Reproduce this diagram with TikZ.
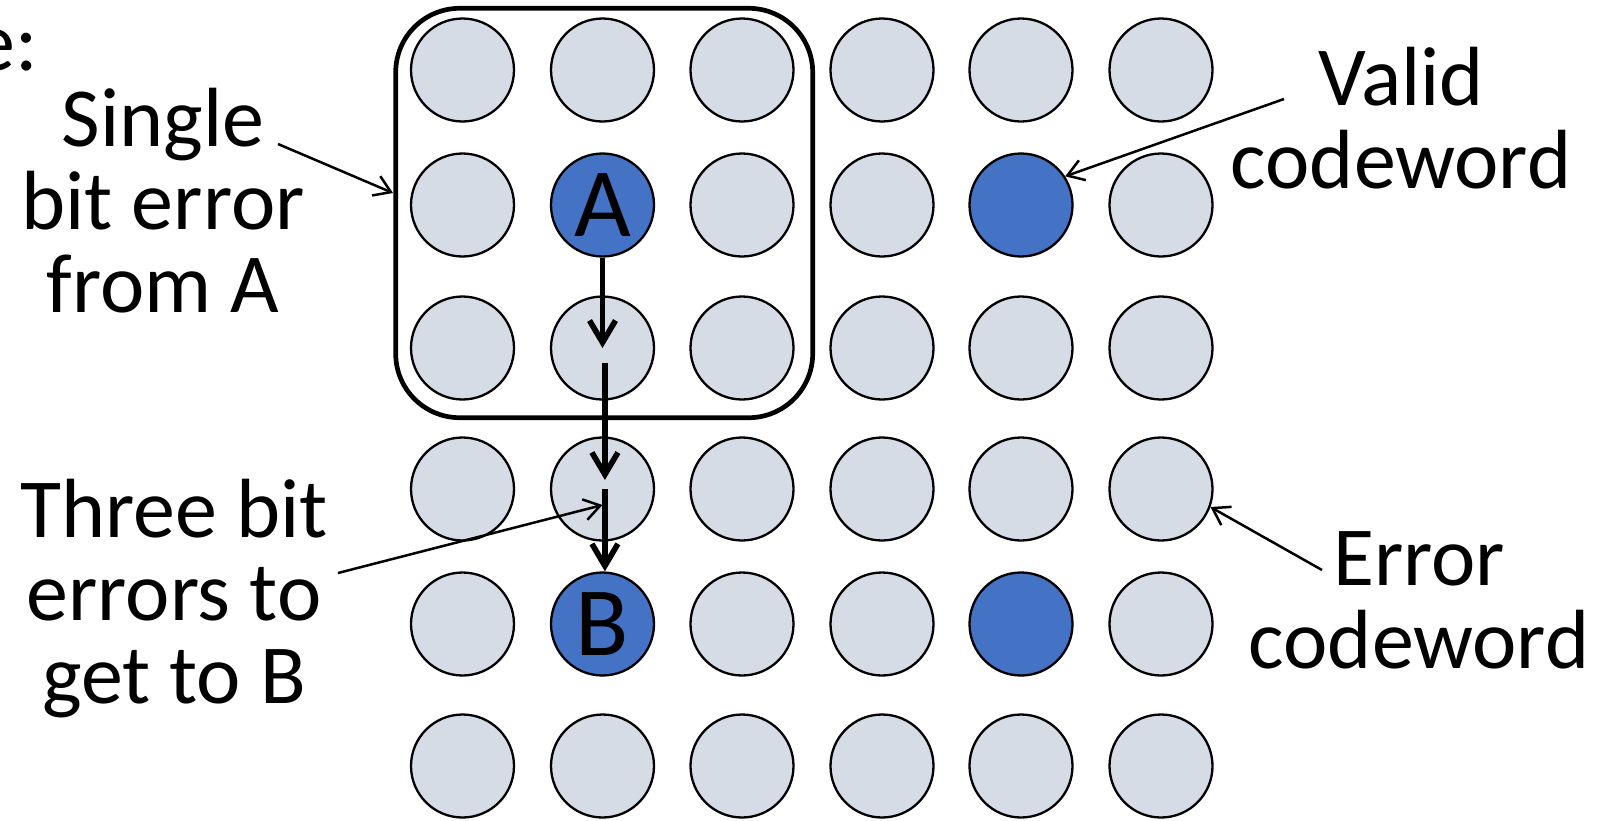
\documentclass[tikz,border=0pt]{standalone}
\usepackage{fontspec}
\setmainfont{Carlito}
\usetikzlibrary{arrows.meta}
\definecolor{cwlight}{HTML}{D6DCE5}
\definecolor{cwblue}{HTML}{4472C4}
\begin{document}
\begin{tikzpicture}[x=0.5pt,y=-0.5pt,
  cw/.style={circle,draw=black,line width=1.15pt,fill=cwlight,minimum size=51.5pt,inner sep=0pt,font=\fontsize{49}{49}\selectfont},
  cwvalid/.style={cw,fill=cwblue},
  lbl/.style={align=center,inner sep=0pt,anchor=base,font=\fontsize{42}{41.5}\selectfont},
  bigarrow/.style={line width=2.8pt,-{Straight Barb[length=11pt,width=13pt]}},
  thinarrow/.style={line width=1.25pt,-{Straight Barb[length=8pt,width=10.5pt]}}]
\useasboundingbox (0,0) rectangle (1617,820);
\clip (0,0) rectangle (1617,820);
% grid of codewords
\foreach \y [count=\r] in {70,205,348,489,624,766} {
  \foreach \x [count=\c] in {462.5,602.5,742,882,1021,1161} {
    \pgfmathtruncatemacro{\isblue}{(\r==2 || \r==5) && (\c==2 || \c==5)}
    \ifnum\isblue=0
      \node[cw] (c\r\c) at (\x,\y) {};
    \fi
  }
}
\node[cwvalid] (c22) at (602.5,205) {A};
\node[cwvalid] (c25) at (1021,205) {};
\node[cwvalid] (c52) at (602.5,624) {B};
\node[cwvalid] (c55) at (1021,624) {};
% single-bit-error region
\node[draw=black,line width=2.35pt,rounded corners=32pt,minimum width=208.5pt,minimum height=204.7pt,inner sep=0pt] (box) at (604.2,213) {};
% path from A to B
\draw[bigarrow] (c22) -- (c32.center);
\draw[bigarrow] ([xshift=1.2pt,yshift=-7.5pt]c32.center) -- ([xshift=1.2pt,yshift=4.5pt]c42.center);
\draw[bigarrow] ([xshift=1.2pt]c42.center) -- ([xshift=1.2pt]c52.north);
% labels (base anchor = baseline of the last line)
\node[lbl,anchor=base east] (etext) at (38,70) {e:};
\node[lbl] (single) at (163,312) {Single\\bit error\\from A};
\node[lbl] (three) at (174,703) {Three bit\\errors to\\get to B};
\node[lbl] (valid) at (1401,188) {Valid\\codeword};
\node[lbl] (error) at (1419,668) {Error\\codeword};
% annotation arrows
\coordinate (single-from) at (278,144);
\coordinate (single-to) at (393,193);
\coordinate (three-from) at (338,573);
\coordinate (valid-from) at (1284,99);
\coordinate (error-from) at (1322,570);
\draw[thinarrow] (single-from) -- (single-to);
\draw[thinarrow] (three-from) -- ([yshift=-8pt]c42.center);
\draw[thinarrow] (valid-from) -- (c25.33);
\draw[thinarrow] (error-from) -- (c46.-20);
\end{tikzpicture}
\end{document}
